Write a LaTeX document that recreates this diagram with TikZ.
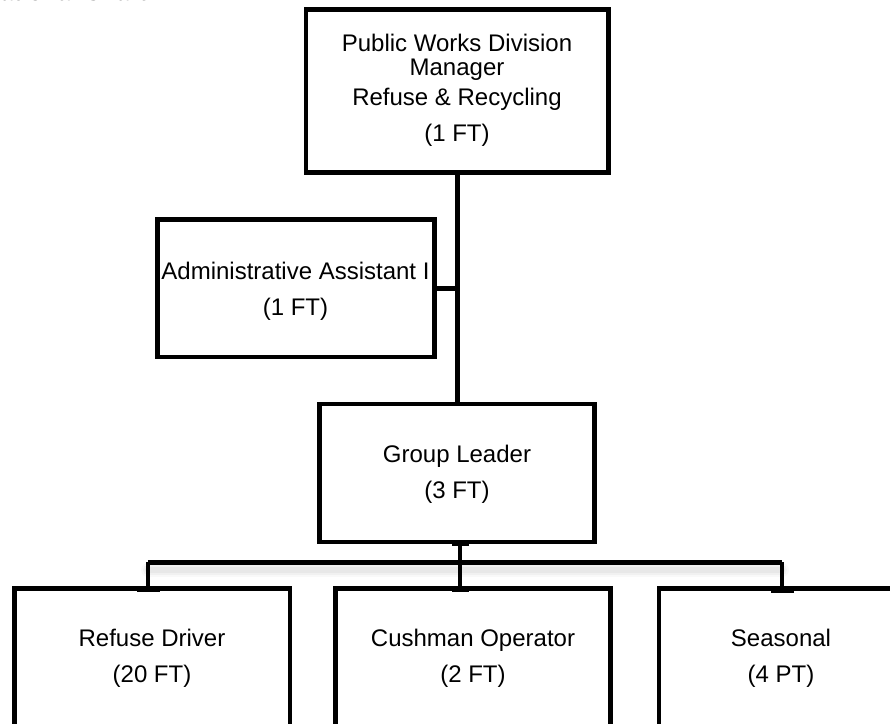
\documentclass[tikz,border=0pt]{standalone}
\usepackage{fontspec}
\setmainfont{Liberation Sans}
\begin{document}
\begin{tikzpicture}[x=1pt,y=-1pt,
  orgbox/.style={draw, rectangle, line width=4.2pt, outer sep=0pt, inner sep=0pt, fill=white},
  label text/.style={font=\fontsize{24}{36}\selectfont, align=center, inner sep=0pt},
  link/.style={line width=4.6pt},
  busline/.style={line width=5pt},
  tee/.style={line width=5.5pt}]
\useasboundingbox (0,0) rectangle (890,723);
\clip (0,0) rectangle (890,723);

% title, mostly above the page edge
\node[font=\fontsize{24}{28}\selectfont\bfseries, anchor=base east, inner sep=0pt] (title) at (147,0.5) {Organizational Chart};

% junction points of the bus
\coordinate (busL) at (148,562);
\coordinate (busM) at (460,562);
\coordinate (busR) at (782,562);

% boxes
\node[orgbox, minimum width=302.5pt, minimum height=163pt] (mgr) at (457.25,91) {};
\node[orgbox, minimum width=277pt, minimum height=137.5pt] (adm) at (296,288.25) {};
\node[orgbox, minimum width=275pt, minimum height=138pt] (gl) at (457,473) {};
\node[orgbox, minimum width=275.5pt, minimum height=200pt] (rd) at (152.25,688.5) {};
\node[orgbox, minimum width=275pt, minimum height=200pt] (cu) at (473,688.5) {};
\node[orgbox, minimum width=246pt, minimum height=200pt] (ss) at (782,688.5) {};

% box texts
\node[label text] (mgrt) at (457,90.5) {Public Works Division\\[-12pt]Manager\\[-6pt]Refuse \& Recycling\\(1 FT)};
\node[label text] (admt) at (295.5,291.75) {Administrative Assistant I\\(1 FT)};
\node[label text] (glt) at (457,474.25) {Group Leader\\(3 FT)};
\node[label text] (rdt) at (152,658.75) {Refuse Driver\\(20 FT)};
\node[label text] (cut) at (473,658.75) {Cushman Operator\\(2 FT)};
\node[label text] (sst) at (781,658.75) {Seasonal\\(4 PT)};

% reporting lines
\draw[link] (mgr.south) -- (mgr.south |- gl.north);
\draw[link] (adm.east) -- (adm.east -| mgr.south);

% faint haze under the bus
\foreach \o/\w in {0.025/14, 0.03/10, 0.035/6}
  \draw[line width=\w pt, black, opacity=\o, line cap=round] ([yshift=-8pt]busL) -- ([yshift=-8pt]busR);

\draw[busline] (busL) -- (busR);
\draw[link] (gl.south -| busM) -- (busM) -- (cu.north -| busM);
\draw[link] (busL) -- (rd.north -| busL);
\draw[link] (busR) -- (ss.north -| busR);

% small bars where the lines meet the boxes
\draw[tee] ([xshift=-8pt,yshift=-1pt]gl.south -| busM) -- ([xshift=9pt,yshift=-1pt]gl.south -| busM);
\draw[tee] ([xshift=-8pt,yshift=-1pt]cu.north -| busM) -- ([xshift=9pt,yshift=-1pt]cu.north -| busM);
\draw[tee] ([xshift=-11pt,yshift=-1pt]rd.north -| busL) -- ([xshift=12pt,yshift=-1pt]rd.north -| busL);
\draw[tee] ([xshift=-11pt,yshift=-2pt]ss.north -| busR) -- ([xshift=12pt,yshift=-2pt]ss.north -| busR);
\end{tikzpicture}
\end{document}
